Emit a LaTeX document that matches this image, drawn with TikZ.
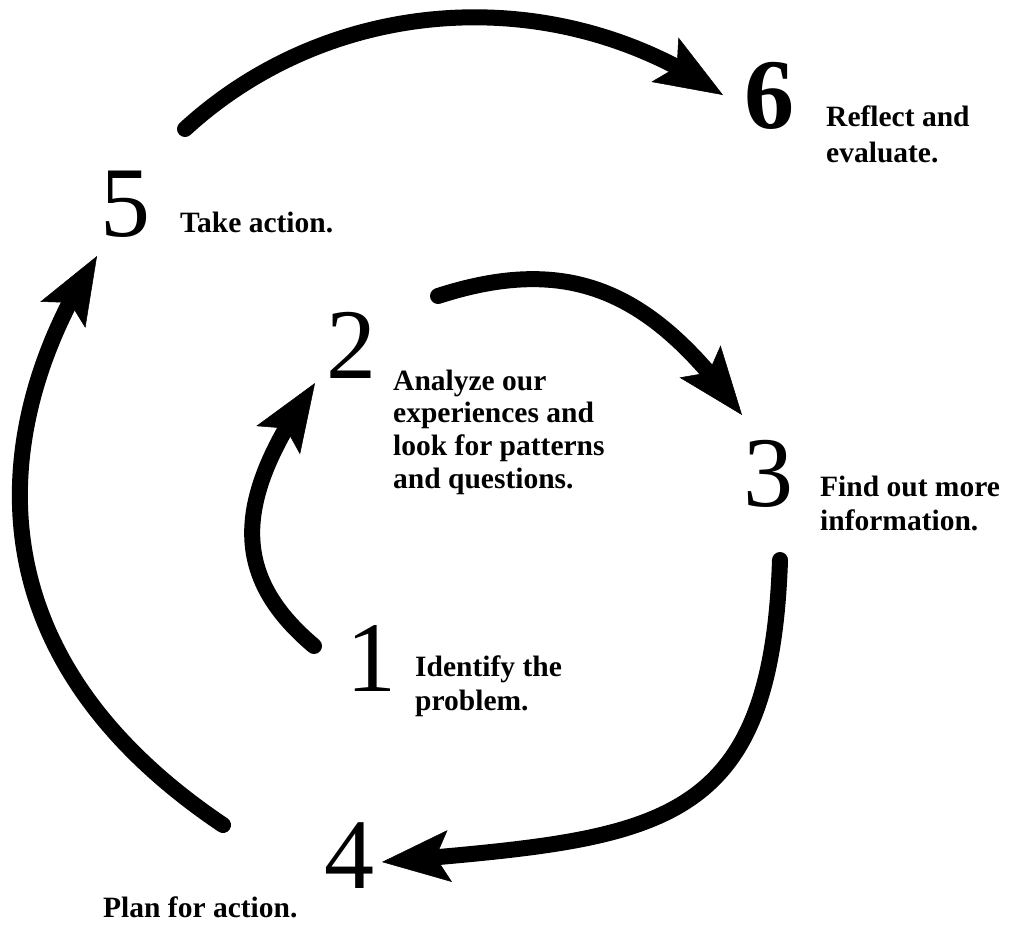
\documentclass[tikz,border=0pt]{standalone}
\usepackage{fontspec}
\setmainfont{Liberation Serif}
\usetikzlibrary{arrows.meta,bending}

\begin{document}
\begin{tikzpicture}[x=1pt,y=1pt,
  num/.style={inner sep=0pt,font=\fontsize{100}{100}\selectfont},
  lbl/.style={inner sep=0pt,anchor=base west,align=left,
    font=\bfseries\fontsize{29.5}{34}\selectfont},
  cyc/.style={line width=16pt,line cap=round,
    -{Stealth[length=68pt,width=52pt,inset=14pt,line width=0.5pt,flex]}}]
  \useasboundingbox (0,0) rectangle (1009,-924);
  % step numbers
  \node[num] (n1) at (371,-658) {1};
  \node[num] (n2) at (351,-345) {2};
  \node[num] (n3) at (768,-474) {3};
  \node[num] (n4) at (349,-856) {4};
  \node[num] (n5) at (125,-204) {5};
  \node[num] (n6) at (769,-96) {\bfseries 6};
  % step texts (anchored on their last line)
  \node[lbl] (l1) at (415,-710) {Identify the\\problem.};
  \node[lbl,font=\bfseries\fontsize{29.5}{32.6}\selectfont] (l2) at (393,-488)
    {Analyze our\\experiences and\\look for patterns\\and questions.};
  \node[lbl] (l3) at (820,-530) {Find out more\\information.};
  \node[lbl] (l4) at (103,-917) {Plan for action.};
  \node[lbl] (l5) at (180,-232) {Take action.};
  \node[lbl,font=\bfseries\fontsize{29.5}{36}\selectfont] (l6) at (826,-162)
    {Reflect and\\evaluate.};
  % arrow ends
  \coordinate (t12) at (314,-646);
  \coordinate (h12) at (315,-383);
  \coordinate (t23) at (438,-296);
  \coordinate (h23) at (742,-415);
  \coordinate (t34) at (780,-560);
  \coordinate (h34) at (382,-862);
  \coordinate (t45) at (223,-825);
  \coordinate (h45) at (97,-256);
  \coordinate (t56) at (185,-129);
  \coordinate (h56) at (723,-95);
  % the cycle
  \draw[cyc] (t12) .. controls (226,-572) and (237,-494) .. (h12);
  \draw[cyc] (t23) .. controls (574,-252) and (655,-295) .. (h23);
  \draw[cyc] (t34) .. controls (771,-835) and (655,-838) .. (h34);
  \draw[cyc] (t45) .. controls (-64,-632) and (12,-385) .. (h45);
  \draw[cyc] (t56) .. controls (331,5) and (556,21) .. (h56);
\end{tikzpicture}
\end{document}
